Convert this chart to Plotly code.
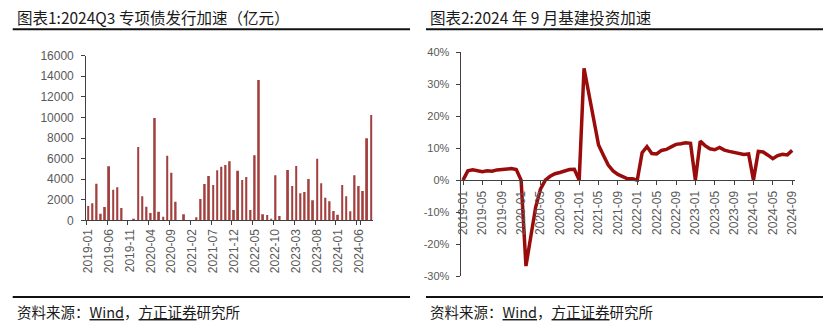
import plotly.graph_objects as go

W, H = 826, 330

months = [f"{y}-{m:02d}" for y in range(2019, 2025) for m in range(1, 13)][:69]

bond_issuance = [
    1400, 1650, 3560, 640, 1290, 5250, 2980, 3210, 1200, 0, 0, 100,
    7120, 2330, 1320, 700, 9940, 840, 350, 6280, 4630, 1810, 0, 580,
    0, 0, 290, 2070, 3530, 4300, 3430, 4860, 5210, 5370, 5730, 1000,
    4820, 3920, 4210, 1000, 6320, 13640, 580, 510, 160, 4370, 420, 0,
    4890, 3330, 5280, 2620, 2750, 4010, 1940, 5990, 3590, 2200, 1840, 900,
    550, 3430, 2330, 870, 4370, 3330, 2850, 7970, 10240,
]

infra_yoy = [
    0, 2.9, 3.2, 3.0, 2.6, 2.9, 2.8, 3.2, 3.4, 3.4, 3.6, 3.3,
    0, -26.9, -16.8, -8.5, -2.8, 0.0, 1.2, 2.0, 2.4, 2.8, 3.3, 3.4,
    0, 35.0, 27.0, 18.0, 11.0, 7.8, 4.7, 2.9, 1.8, 1.1, 0.4, 0.4,
    0, 8.6, 10.5, 8.3, 8.2, 9.3, 9.6, 10.4, 11.2, 11.4, 11.7, 11.5,
    0, 12.2, 10.8, 9.8, 9.5, 10.2, 9.4, 9.0, 8.6, 8.3, 8.0, 8.2,
    0, 9.0, 8.8, 7.8, 6.7, 7.7, 8.1, 7.9, 9.3,
]

left_ticks = months[::5]
right_ticks = months[::4]
left_yticks = list(range(0, 16001, 2000))
right_yticks = list(range(-30, 41, 10))

title1 = "图表1:2024Q3 专项债发行加速（亿元）"
title2 = "图表2:2024 年 9 月基建投资加速"
source = "资料来源：<u>Wind</u>，<u>方正证券</u>研究所"

def px(x):
    return x / W

def py(y):
    return 1 - y / H

fig = go.Figure()
fig.add_trace(go.Bar(x=months, y=bond_issuance, marker=dict(color="#a2403f", line=dict(width=0)),
                     xaxis="x", yaxis="y", showlegend=False))
fig.add_trace(go.Scatter(x=months, y=infra_yoy, mode="lines",
                         line=dict(color="#9a0c0c", width=3.5), xaxis="x2", yaxis="y2", showlegend=False))

tickfont_l = dict(family="Liberation Sans, Arial", size=12, color="#595959")
tickfont_r = dict(family="Liberation Sans, Arial", size=11, color="#595959")
tickfont_rx = dict(family="Liberation Sans, Arial", size=12, color="#595959")
axcol = "#404040"

y2_bottom, y2_top = py(276), py(52.3)

fig.update_layout(
    template="none",
    width=W, height=H, margin=dict(l=0, r=0, t=0, b=0, pad=0, autoexpand=False),
    paper_bgcolor="white", plot_bgcolor="white",
    bargap=0.57,
    xaxis=dict(domain=[px(86.2), px(373.3)], anchor="y", type="category",
               range=[-0.5, 68.5], tickvals=left_ticks, ticktext=left_ticks,
               tickangle=-90, tickfont=tickfont_l, ticks="outside", ticklen=4,
               tickcolor=axcol, tickson="boundaries", ticklabelstandoff=3,
               showline=True, linecolor=axcol, linewidth=1, showgrid=False,
               zeroline=False, automargin=False),
    yaxis=dict(domain=[py(220.3), py(55.7)], anchor="x", range=[0, 16000],
               tickvals=left_yticks, ticktext=[str(v) for v in left_yticks],
               tickfont=tickfont_l, ticks="outside", ticklen=4, ticklabelstandoff=5,
               tickcolor=axcol, showline=True, linecolor=axcol, linewidth=1,
               showgrid=False, zeroline=False, automargin=False),
    xaxis2=dict(domain=[px(460.6), px(794.6)], anchor="free",
                position=y2_bottom + (30 / 70) * (y2_top - y2_bottom),
                type="category", range=[-0.5, 68.5], tickvals=right_ticks, ticktext=right_ticks,
                tickangle=-90, tickfont=tickfont_rx, ticks="outside", ticklen=4,
                ticklabelstandoff=1,
                tickcolor=axcol, showline=True, linecolor=axcol, linewidth=1,
                showgrid=False, zeroline=False, automargin=False),
    yaxis2=dict(domain=[y2_bottom, y2_top], anchor="x2", range=[-30, 40],
                tickvals=right_yticks, ticktext=[f"{v}%" for v in right_yticks],
                tickfont=tickfont_r, ticks="outside", ticklen=4, tickcolor=axcol,
                ticklabelstandoff=4,
                showline=True, linecolor=axcol, linewidth=1, showgrid=False,
                zeroline=False, automargin=False),
)

cjk = "Noto Sans CJK SC"
annots = [
    dict(text=title1, x=px(15), y=py(16.5), font=dict(family=cjk, size=15.5, color="#1a1a1a")),
    dict(text=title2, x=px(428), y=py(16.5), font=dict(family=cjk, size=15.5, color="#1a1a1a")),
    dict(text=source, x=px(15), y=py(311), font=dict(family=cjk, size=14.5, color="#1a1a1a")),
    dict(text=source, x=px(428), y=py(311), font=dict(family=cjk, size=14.5, color="#1a1a1a")),
]
for a in annots:
    fig.add_annotation(xref="paper", yref="paper", xanchor="left", yanchor="middle",
                       showarrow=False, **a)

for x0, x1 in [(12.7, 410), (426, 823)]:
    for yy in (29.3, 297):
        fig.add_shape(type="line", xref="paper", yref="paper",
                      x0=px(x0), x1=px(x1), y0=py(yy), y1=py(yy),
                      line=dict(color="#111111", width=2))

fig.write_html("out.html")
